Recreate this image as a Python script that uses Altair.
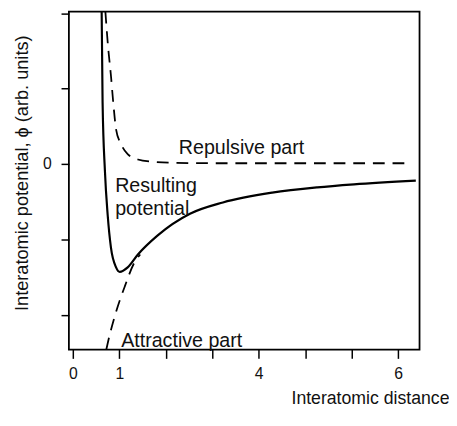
import altair as alt
import pandas as pd

# Curves, in axis units (x: tick positions, y: potential units)
rep_x = [0.70, 0.76, 0.82, 0.87, 0.93, 1.04, 1.18, 1.40, 1.71, 2.20, 3.0, 5.0, 7.2]
rep_y = [2.02, 1.54, 1.17, 0.81, 0.46, 0.26, 0.13, 0.06, 0.03, 0.015, 0.01, 0.01, 0.01]

res_x = [0.62, 0.64, 0.69, 0.75, 0.82, 0.93, 1.01, 1.18, 1.40, 1.82, 2.52, 3.23, 4.29, 5.26, 6.05, 7.38]
res_y = [2.02, 0.82, -0.09, -0.68, -1.11, -1.37, -1.43, -1.37, -1.20, -0.95, -0.66, -0.51, -0.38, -0.31, -0.27, -0.22]

att_x = [0.72, 0.76, 0.93, 1.12, 1.33, 1.45]
att_y = [-2.46, -2.35, -1.96, -1.62, -1.30, -1.20]

lab_text = ["Repulsive part", "Resulting", "potential", "Attractive part"]
lab_x = [2.28, 0.91, 0.91, 1.04]
lab_y = [0.21, -0.29, -0.60, -2.35]

x_ticks = [0, 1, 2, 3, 4, 5, 6, 7]
y_ticks = [-2, -1, 0, 1, 2]

FONT = "Liberation Sans"

def df(xs, ys):
    return pd.DataFrame({"x": xs, "y": ys, "i": list(range(len(xs)))})

xs = alt.Scale(domain=[-0.085, 7.46], nice=False, zero=False)
ys = alt.Scale(domain=[-2.46, 2.02], nice=False, zero=False)

xax = alt.Axis(values=x_ticks, grid=False, domain=False, tickSize=9, tickWidth=1.5,
               tickColor="black", labelFontSize=16, labelFont=FONT, labelColor="#111",
               labelPadding=8, labelExpr="datum.value==0?'0':datum.value==1?'1':datum.value==4?'4':datum.value==7?'6':''",
               title="Interatomic distance", titleFont=FONT, titleFontSize=18, titleFontWeight="normal",
               titleColor="#111", titleX=387, titleY=50, titleAlign="right", titleBaseline="middle")
yax = alt.Axis(values=y_ticks, grid=False, domain=False, tickSize=8, tickWidth=1.5,
               tickColor="black", labelFontSize=16, labelFont=FONT, labelColor="#111",
               labelPadding=10, labelExpr="datum.value==0?'0':''",
               title="Interatomic potential, ϕ (arb. units)", titleFont=FONT, titleFontSize=18.5,
               titleFontWeight="normal", titleColor="#111", titleX=-48, titleY=164,
               titleAngle=270, titleAlign="center", titleBaseline="middle")

enc = dict(x=alt.X("x:Q", scale=xs, axis=xax), y=alt.Y("y:Q", scale=ys, axis=yax), order="i:Q")

rep = alt.Chart(df(rep_x, rep_y)).mark_line(color="black", strokeWidth=1.8, strokeDash=[12, 8],
                                            interpolate="monotone", clip=True).encode(**enc)
att = alt.Chart(df(att_x, att_y)).mark_line(color="black", strokeWidth=1.8, strokeDash=[12, 8],
                                            interpolate="monotone", clip=True).encode(**enc)
res = alt.Chart(df(res_x, res_y)).mark_line(color="black", strokeWidth=2.2,
                                            interpolate="monotone", clip=True).encode(**enc)

labels = alt.Chart(pd.DataFrame({"t": lab_text, "x": lab_x, "y": lab_y})).mark_text(
    align="left", baseline="middle", fontSize=20, font=FONT, color="#111"
).encode(x=alt.X("x:Q", scale=xs), y=alt.Y("y:Q", scale=ys), text="t:N")

chart = alt.layer(rep, att, res, labels).properties(
    width=357, height=344,
    autosize=alt.AutoSizeParams(type="none"),
    padding={"left": 62, "top": 0, "right": 30, "bottom": 66},
    background="white",
).configure_view(stroke="black", strokeWidth=1.8)

chart.save("out.html", embed_options={"renderer": "svg", "actions": False})
